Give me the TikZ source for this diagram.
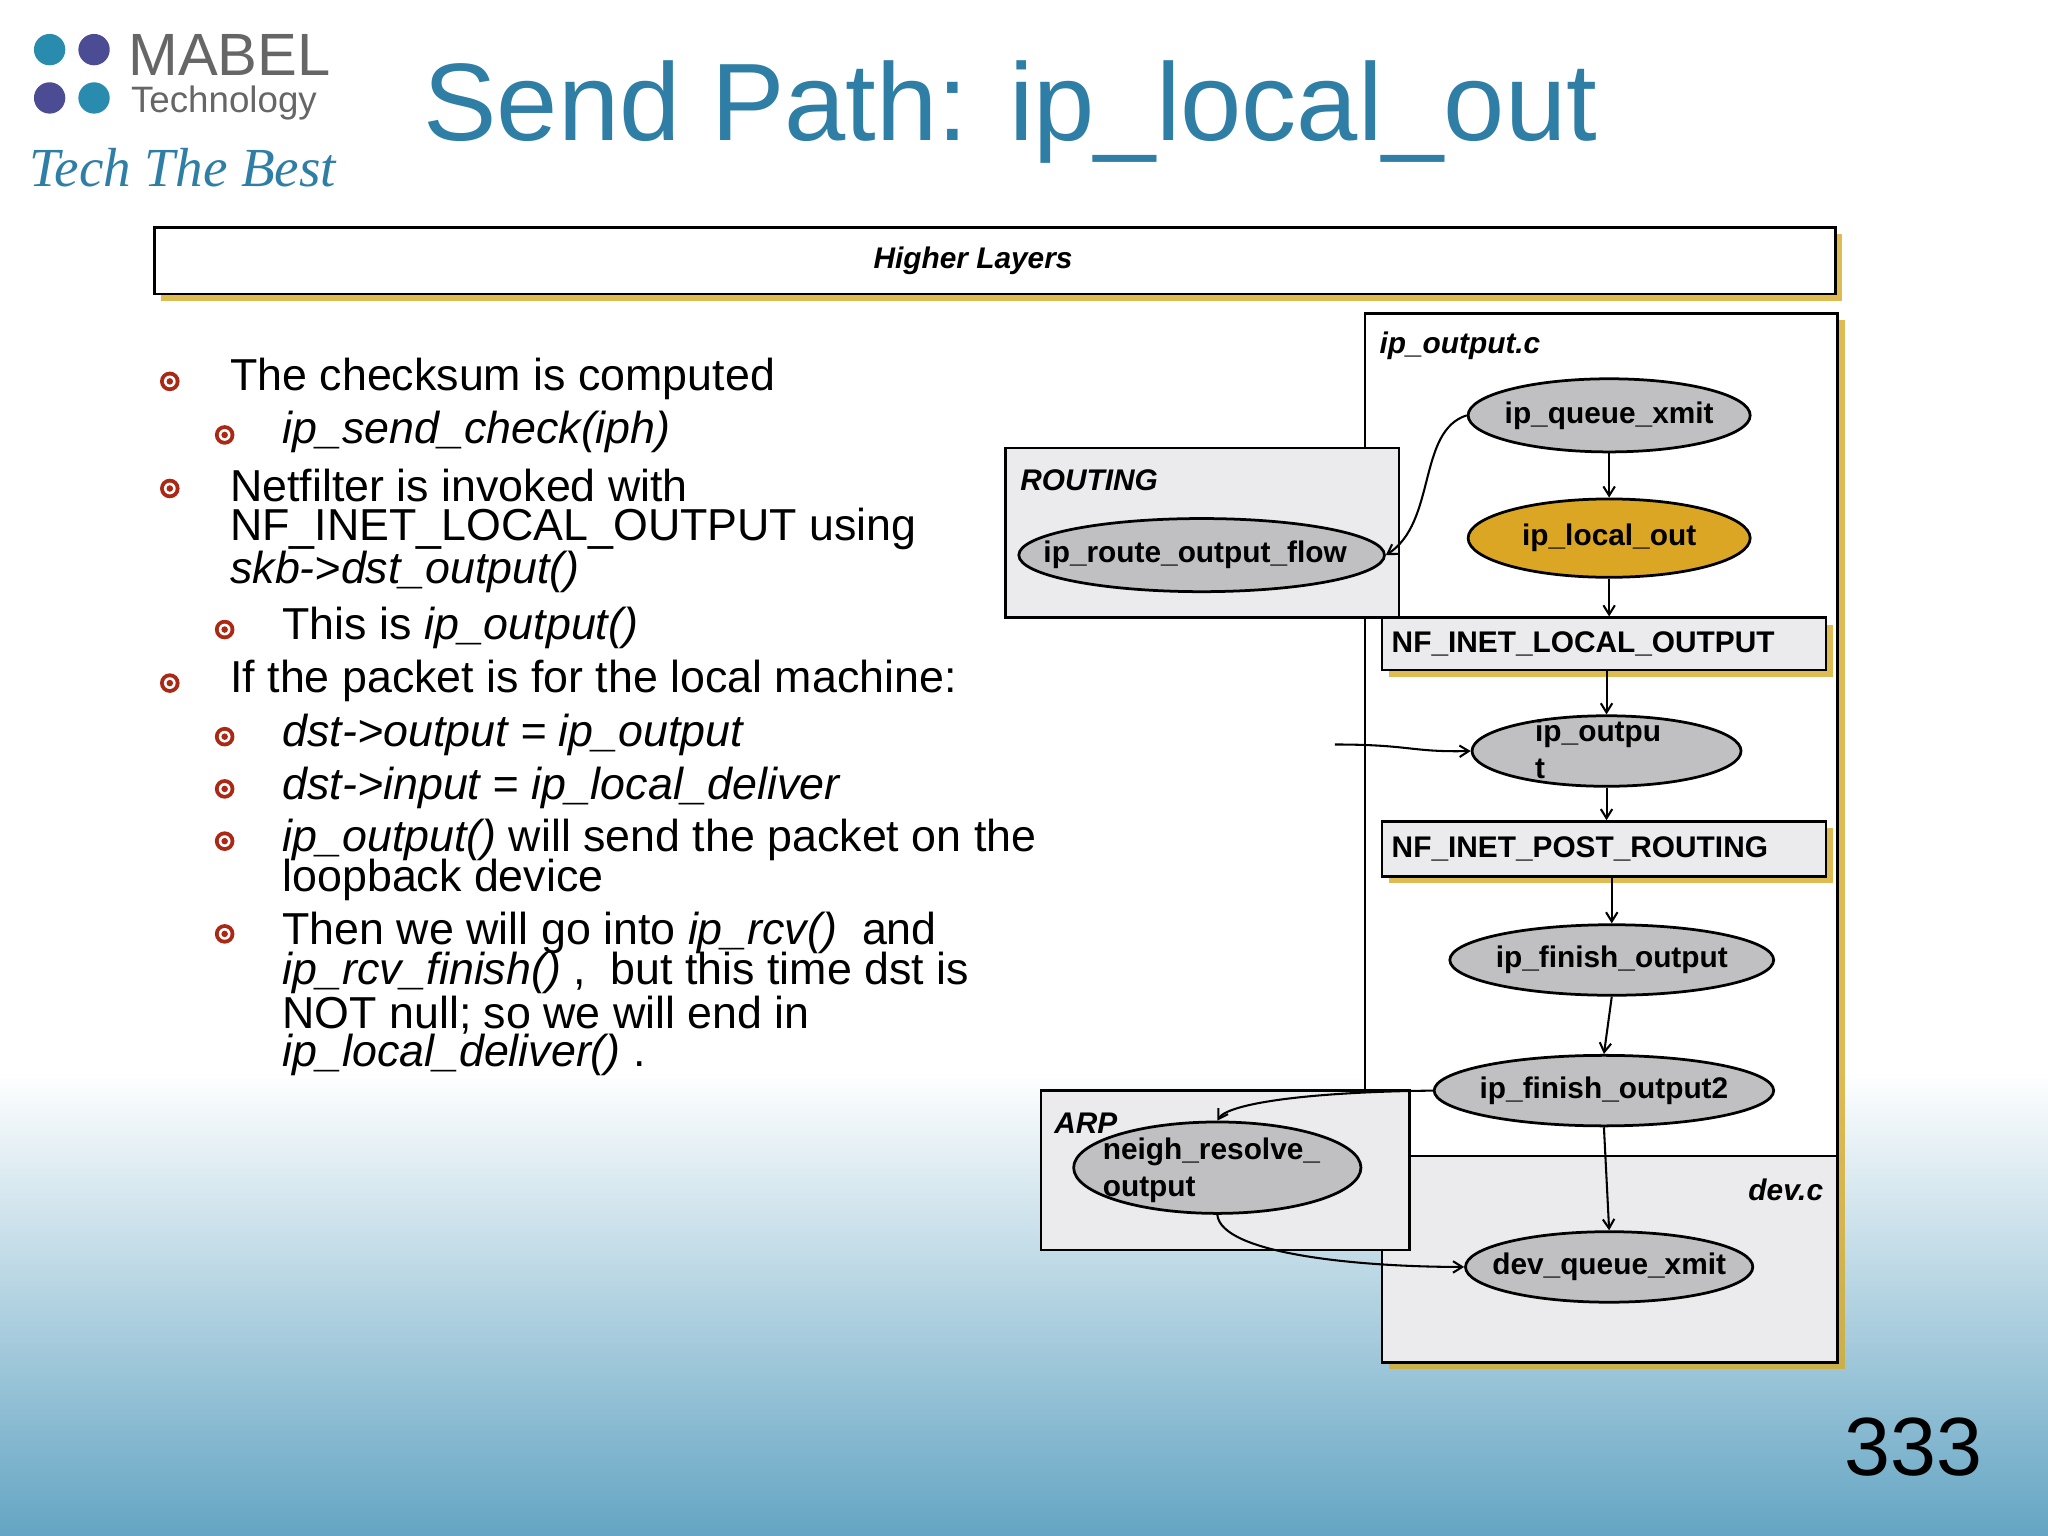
\documentclass[tikz,border=0pt]{standalone}
\usepackage{fontspec}
\setmainfont{Liberation Sans}
\usetikzlibrary{shapes.geometric,shadows,arrows.meta}
\definecolor{ttl}{RGB}{46,126,165}
\definecolor{gold}{RGB}{215,170,40}
\definecolor{lgray}{RGB}{235,235,237}
\definecolor{egray}{RGB}{192,192,194}
\definecolor{bul}{RGB}{170,40,20}
\begin{document}
\begin{tikzpicture}[x=0.02cm,y=-0.02cm,
  box/.style={draw=black,line width=1.2pt,drop shadow={shadow xshift=3pt,shadow yshift=-3pt,fill=gold,opacity=0.8}},
  ell/.style={ellipse,draw=black,line width=1.2pt,fill=egray,inner sep=0pt},
  et/.style={font=\fontsize{13}{14}\selectfont\bfseries,inner sep=0pt},
  lbl/.style={font=\fontsize{13}{14}\selectfont\bfseries\itshape,anchor=west},
  con/.style={line width=0.9pt,-{Straight Barb[length=4pt,width=5pt]}},
  txt/.style={anchor=west,font=\fontsize{19.5}{21}\selectfont,inner sep=0pt}]
\useasboundingbox (0,0) rectangle (1568,1176);
\fill[white] (0,0) rectangle (1568,1176);
\shade[top color=white,bottom color={rgb,255:red,100;green,165;blue,195}] (0,820) rectangle (1568,1176);
% logo
\fill[ttl!90!cyan] (38,38) circle (12);
\fill[blue!40!black!70] (72,38) circle (12);
\fill[blue!40!black!70] (38,75) circle (12);
\fill[ttl!90!cyan] (72,75) circle (12);
\node[anchor=west,text=gray!80!black,font=\fontsize{26}{26}\selectfont,inner sep=0pt] (mabel) at (98,42) {MABEL};
\node[anchor=west,text=gray!80!black,font=\fontsize{16}{16}\selectfont,inner sep=0pt] (tech) at (100,79) {Technology};
\node[anchor=west,text=ttl,font=\fontsize{24}{24}\selectfont\itshape,inner sep=0pt] (tb) at (22,128) {\fontspec{Liberation Serif}\itshape Tech The Best};
\node[anchor=west,text=ttl,font=\fontsize{48}{50}\selectfont] (title) at (318,86) {Send Path: ip\_local\_out};
% higher layers
\draw[box,fill=white] (118,174) rectangle (1405,225);
\node[font=\fontsize{13}{14}\selectfont\bfseries\itshape] (hl) at (745,199.5) {Higher Layers};
% boxes
\draw[box,fill=white] (1045,240) rectangle (1407,885);
\draw[box,fill=lgray] (1058,885) rectangle (1407,1043);
\draw[line width=1.2pt,fill=lgray] (770,343) rectangle (1071,473);
\draw[line width=1.2pt,fill=lgray] (797,835) rectangle (1079,957);
\node[box,fill=lgray,minimum width=6.8cm,minimum height=0.8cm,font=\fontsize{13}{14}\selectfont\bfseries,text width=6.5cm,align=left] (nflo) at (1228,493) {NF\_INET\_LOCAL\_OUTPUT};
\node[box,fill=lgray,minimum width=6.8cm,minimum height=0.84cm,font=\fontsize{13}{14}\selectfont\bfseries,text width=6.5cm,align=left] (nfpr) at (1228,650) {NF\_INET\_POST\_ROUTING};
\node[lbl] (lo) at (1050,265) {ip\_output.c};
\node[lbl] (lr) at (775,368) {ROUTING};
\node[lbl] (la) at (801,860) {ARP};
\node[lbl,anchor=east] (ld) at (1402,911) {dev.c};
% ellipses
\node[ell,minimum width=4.32cm,minimum height=1.12cm] (qx) at (1232,318) {};
\node[et] (qxt) at (qx) {ip\_queue\_xmit};
\node[ell,fill=gold!90!orange,minimum width=4.32cm,minimum height=1.2cm] (lout) at (1232,412) {};
\node[et] (loutt) at (lout) {ip\_local\_out};
\node[ell,minimum width=5.6cm,minimum height=1.12cm] (rof) at (920,425) {};
\node[et] (roft) at (915,425) {ip\_route\_output\_flow};
\node[ell,minimum width=4.12cm,minimum height=1.08cm] (ipo) at (1230,575) {};
\node[et,anchor=north west,align=left] (ipot) at (1175,551) {ip\_outpu\\[2pt]t};
\node[ell,minimum width=4.96cm,minimum height=1.08cm] (fo) at (1234,735) {};
\node[et] (fot) at (fo) {ip\_finish\_output};
\node[ell,minimum width=5.2cm,minimum height=1.08cm] (fo2) at (1228,835) {};
\node[et] (fo2t) at (fo2) {ip\_finish\_output2};
\node[ell,minimum width=4.4cm,minimum height=1.4cm] (nro) at (932,894) {};
\node[et,anchor=north west,align=left] (nrot) at (844,871) {neigh\_resolve\_\\[2pt]output};
\node[ell,minimum width=4.4cm,minimum height=1.08cm] (dqx) at (1232,970) {};
\node[et] (dqxt) at (dqx) {dev\_queue\_xmit};
% connectors
\draw[con] (qx) -- (lout);
\draw[con] (lout.south) -- (nflo.north -| lout.south);
\draw[con] (nflo.south -| ipo.north) -- (ipo.north);
\draw[con] (ipo.south) -- (nfpr.north -| ipo.south);
\draw[con] (nfpr.south -| fo.north) -- (fo.north);
\draw[con] (fo.south) -- (fo2.north);
\draw[con] (fo2.south) -- (dqx.north);
\draw[con] (qx.west) .. controls (1085,330) and (1100,400) .. (rof.east);
\draw[con] (fo2.west) .. controls (1000,836) and (940,845) .. (nro.north);
\draw[con] (nro.south) .. controls (935,960) and (1040,970) .. (dqx.west);
\coordinate (in) at (1022,570);
\draw[con] (in) .. controls (1080,570) and (1080,576) .. (ipo.west);
% bullets
\foreach \x/\y in {130/292,130/374,130/523,172/333,172/482,172/564,172/604,172/644,172/715}{
  \fill[bul] (\x,\y) circle (7.5);
  \fill[white] (\x,\y) circle (4.5);
  \fill[bul] (\x,\y) circle (2.5);
}
\node[txt] (t1) at (176,290) {The checksum is computed};
\node[txt] (t2) at (216,331) {\itshape ip\_send\_check(iph)};
\node[txt] (t3) at (176,372) {Netfilter is invoked with};
\node[txt] (t4) at (176,405) {NF\_INET\_LOCAL\_OUTPUT using};
\node[txt] (t5) at (176,438) {\itshape skb->dst\_output()};
\node[txt] (t6) at (216,481) {This is \textit{ip\_output()}};
\node[txt] (t7) at (176,521) {If the packet is for the local machine:};
\node[txt] (t8) at (216,563) {\itshape dst->output = ip\_output};
\node[txt] (t9) at (216,603) {\itshape dst->input = ip\_local\_deliver};
\node[txt] (t10) at (216,643) {\textit{ip\_output()} will send the packet on the};
\node[txt] (t11) at (216,674) {loopback device};
\node[txt] (t12) at (216,714) {Then we will go into \textit{ip\_rcv()}\ \ and};
\node[txt] (t13) at (216,745) {\textit{ip\_rcv\_finish()} ,\ \ but this time dst is};
\node[txt] (t14) at (216,777) {NOT null; so we will end in};
\node[txt] (t15) at (216,808) {\textit{ip\_local\_deliver()} .};
\node[anchor=center,font=\fontsize{36}{40}\selectfont] (pg) at (1465,1108) {333};
\end{tikzpicture}
\end{document}
